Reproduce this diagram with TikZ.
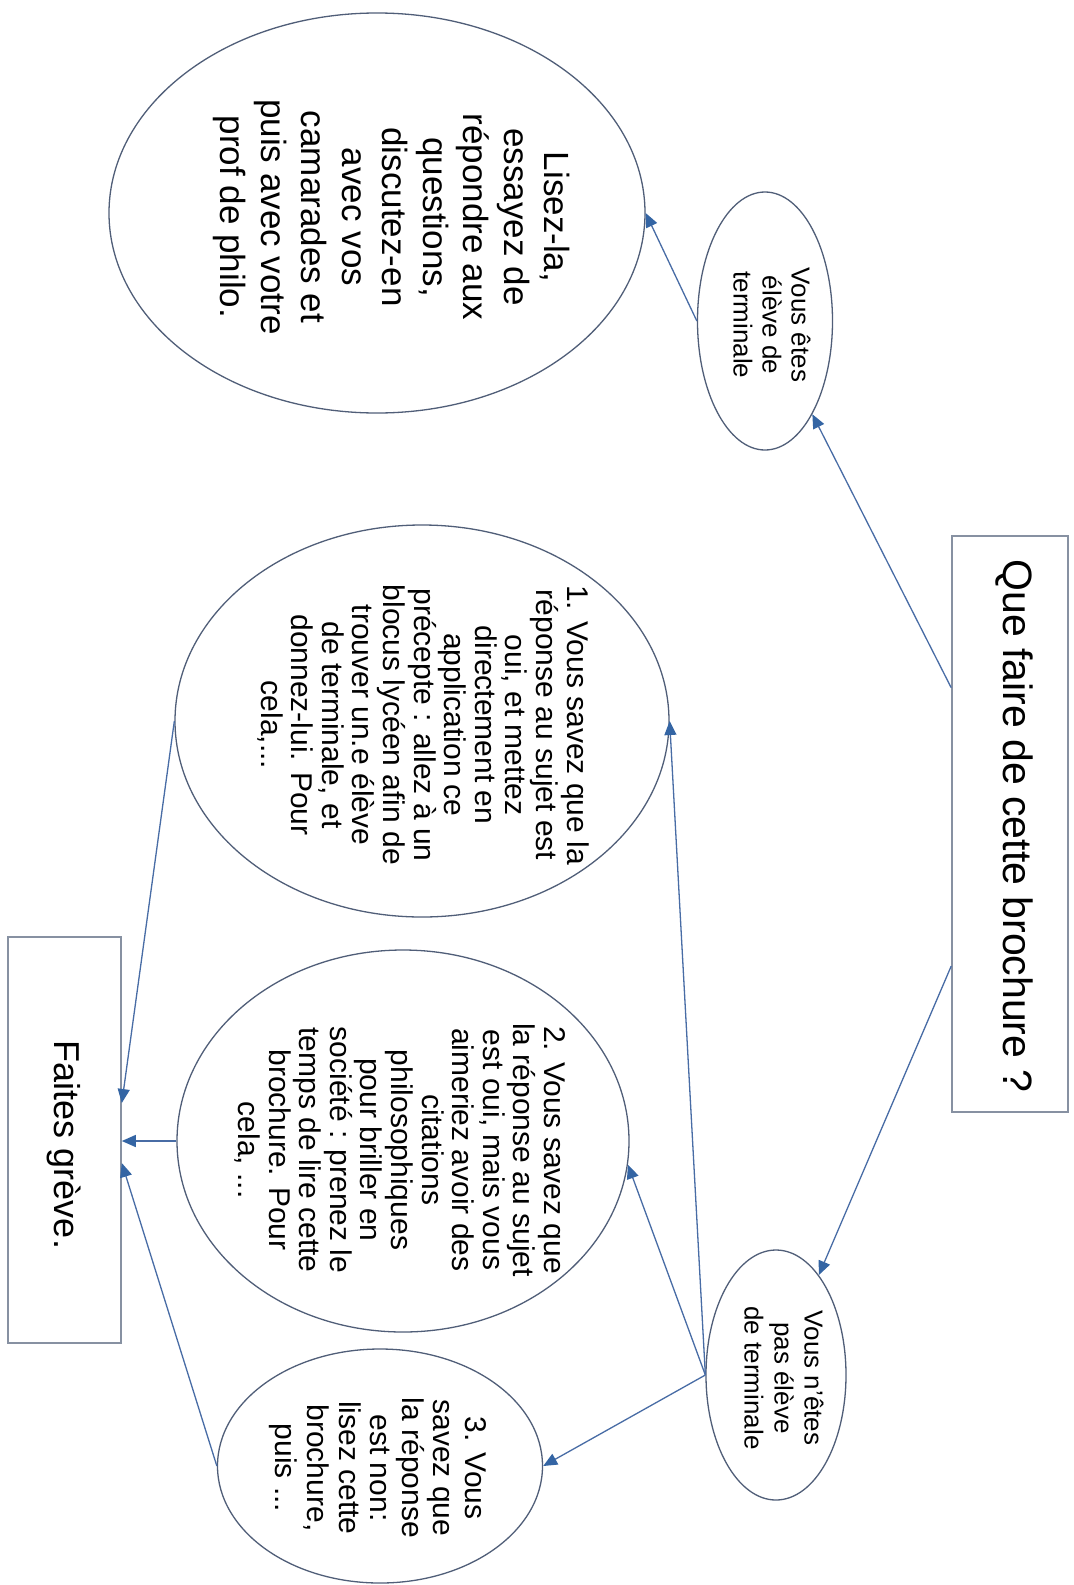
\documentclass[tikz,border=0pt]{standalone}
\usepackage{fontspec}
\setmainfont{Liberation Sans}
\usetikzlibrary{shapes.geometric,arrows.meta,calc}

\definecolor{linkblue}{RGB}{72,108,165}
\definecolor{tipblue}{RGB}{52,101,164}
\definecolor{rimgray}{RGB}{80,94,120}
\definecolor{boxgray}{RGB}{135,145,162}

\tikzset{
    bubble/.style={draw=rimgray, ellipse, inner sep=0pt, line width=0.65pt},
    panel/.style={draw=boxgray, rectangle, inner sep=0pt, line width=0.8pt},
    words/.style={rotate=-90, align=center, inner sep=0pt},
    link/.style={draw=linkblue, line width=0.65pt, -{Triangle[length=7pt,width=6pt,color=tipblue]}}
}

\begin{document}
\begin{tikzpicture}[x=0.5pt, y=-0.5pt]
    \path[use as bounding box, fill=white] (0,0) rectangle (1073,1585);

    % boxes
    \node[panel, minimum width=58pt, minimum height=288pt] (ask) at (1010,824) {};
    \node[words, font=\fontsize{20.5}{24}\selectfont] (ask-t) at (1014,826) {Que faire de cette brochure ?};
    \node[panel, minimum width=56.5pt, minimum height=203pt] (strike) at (64.5,1140) {};
    \node[words, font=\fontsize{18}{21}\selectfont] (strike-t) at (64,1145) {Faites grève.};

    % ellipses
    \node[bubble, minimum width=67.5pt, minimum height=129pt] (yes) at (765,321) {};
    \node[words, font=\fontsize{13}{14.5}\selectfont] (yes-t) at (772,325) {Vous êtes\\élève de\\terminale};
    \node[bubble, minimum width=70pt, minimum height=125pt] (no) at (776,1375) {};
    \node[words, font=\fontsize{13}{15}\selectfont] (no-t) at (784,1378) {Vous n'êtes\\pas élève\\de terminale};

    \node[bubble, minimum width=268pt, minimum height=200pt] (read) at (377,213) {};
    \node[words, font=\fontsize{17.5}{20.25}\selectfont] (read-t) at (392,217)
        {Lisez-la,\\essayez de\\répondre aux\\questions,\\discutez-en\\avec vos\\camarades et\\puis avec votre\\prof de philo.};

    \node[bubble, minimum width=247pt, minimum height=196pt] (opt1) at (422,721) {};
    \node[words, font=\fontsize{15}{15.3}\selectfont] (opt1-t) at (423,725)
        {1. Vous savez que la\\réponse au sujet est\\oui, et mettez\\directement en\\application ce\\précepte : allez à un\\blocus lycéen afin de\\trouver un.e élève\\de terminale, et\\donnez-lui. Pour\\cela,...};

    \node[bubble, minimum width=226pt, minimum height=191pt] (opt2) at (403,1141) {};
    \node[words, font=\fontsize{15}{15.3}\selectfont] (opt2-t) at (400,1150)
        {2. Vous savez que\\la réponse au sujet\\est oui, mais vous\\aimeriez avoir des\\citations\\philosophiques\\pour briller en\\société : prenez le\\temps de lire cette\\brochure. Pour\\cela, ...};

    \node[bubble, minimum width=162.5pt, minimum height=117pt] (opt3) at (380,1466) {};
    \node[words, font=\fontsize{15}{15.8}\selectfont] (opt3-t) at (378,1468)
        {3. Vous\\savez que\\la réponse\\est non:\\lisez cette\\brochure,\\puis ...};

    % connectors
    \draw[link] ($(ask.north west)!0.264!(ask.south west)$) -- (yes);
    \draw[link] ($(ask.north west)!0.746!(ask.south west)$) -- (no);
    \draw[link] (yes.west) -- (read.east);
    \draw[link] (no.west) -- (opt1.east);
    \draw[link] (no.west) -- (opt2.-6);
    \draw[link] (no.west) -- (opt3.east);
    \draw[link] (opt1.west) -- ([yshift=18.5pt]strike.east);
    \draw[link] (opt2.west) -- (strike.east |- opt2.west);
    \draw[link] (opt3.west) -- ([yshift=-11.5pt]strike.east);
\end{tikzpicture}
\end{document}
